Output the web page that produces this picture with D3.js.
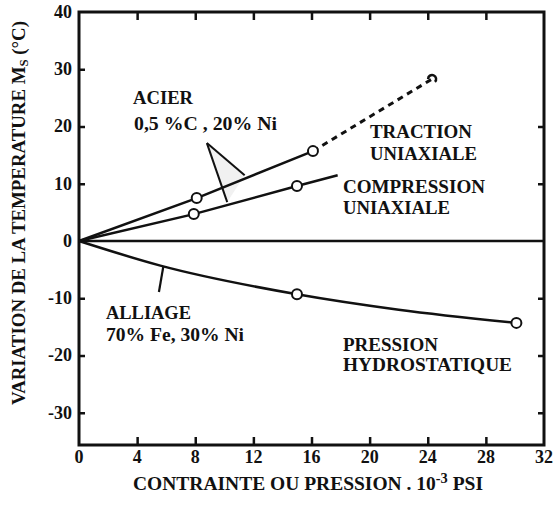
<!DOCTYPE html>
<html>
<head>
<meta charset="utf-8">
<script src="https://cdn.jsdelivr.net/npm/d3@7/dist/d3.min.js"></script>
<style>
  html, body { margin: 0; padding: 0; background: #fff; }
  svg { display: block; }
</style>
</head>
<body>
<svg id="chart" width="555" height="509"></svg>
<script>
// ---- data ----
const xTicks = [0, 4, 8, 12, 16, 20, 24, 28, 32];
const yTicks = [40, 30, 20, 10, 0, -10, -20, -30];

// Acier 0,5%C 20%Ni — traction uniaxiale
const tractionSolid = [[0, 0], [8.1, 7.5], [16.1, 15.7]];
const tractionDashed = [[16.1, 15.7], [24.3, 28.3]];
const tractionPoints = [[8.1, 7.5], [16.1, 15.7]];
const tractionEnd = [24.3, 28.3];

// Acier — compression uniaxiale
const compression = [[0, 0], [7.9, 4.7], [15.0, 9.6], [17.8, 11.5]];
const compressionPoints = [[7.9, 4.7], [15.0, 9.6]];

// Alliage 70%Fe 30%Ni — pression hydrostatique
const hydro = [[0, 0], [5.6, -4.3], [15.0, -9.3], [22.0, -12.0], [30.1, -14.3]];
const hydroPoints = [[15.0, -9.3], [30.1, -14.3]];

// annotation leader lines (data units)
const acierApex = [8.8, 17.1];
const acierTargets = [[11.4, 11.5], [10.2, 6.8]];
const alliageLeader = [[5.8, -4.5], [5.5, -8.9]];

// ---- layout ----
const FONT = "Liberation Serif";
const svg = d3.select("#chart");
const L = 79, R = 544, T = 12, B = 445;
const x = d3.scaleLinear().domain([0, 32]).range([L, R]);
const y = d3.scaleLinear().domain([-35.63, 40]).range([B, T]);

const line = d3.line().x(d => x(d[0])).y(d => y(d[1]));
const styleText = sel => sel.attr("font-family", FONT).attr("font-weight", "bold").attr("fill", "#111");

// frame
svg.append("rect").attr("x", L).attr("y", T).attr("width", R - L).attr("height", B - T)
  .attr("fill", "none").attr("stroke", "#111").attr("stroke-width", 3);

// axes with inward ticks
const inner = xTicks.filter(v => v > 0 && v < 32);
svg.append("g").attr("transform", `translate(0,${B})`)
  .call(d3.axisBottom(x).tickValues(inner).tickSize(-8).tickFormat(""))
  .call(g => g.select(".domain").remove())
  .selectAll("line").attr("stroke", "#111").attr("stroke-width", 2.5);
svg.append("g").attr("transform", `translate(0,${T})`)
  .call(d3.axisTop(x).tickValues(inner).tickSize(-8).tickFormat(""))
  .call(g => g.select(".domain").remove())
  .selectAll("line").attr("stroke", "#111").attr("stroke-width", 2.5);
svg.append("g").attr("transform", `translate(${L},0)`)
  .call(d3.axisLeft(y).tickValues([30, 20, 10, -10, -20, -30]).tickSize(-6).tickFormat(""))
  .call(g => g.select(".domain").remove())
  .selectAll("line").attr("stroke", "#111").attr("stroke-width", 2.5);
svg.append("g").attr("transform", `translate(${R},0)`)
  .call(d3.axisRight(y).tickValues([20, 10, -10, -20, -30]).tickSize(-6).tickFormat(""))
  .call(g => g.select(".domain").remove())
  .selectAll("line").attr("stroke", "#111").attr("stroke-width", 2.5);

// tick labels
svg.append("g").selectAll("text").data(xTicks).join("text")
  .attr("x", d => x(d)).attr("y", 463).attr("text-anchor", "middle")
  .attr("font-size", 18).call(styleText).text(d => d);
svg.append("g").selectAll("text").data(yTicks).join("text")
  .attr("x", 72).attr("y", d => y(d)).attr("dy", "0.33em").attr("text-anchor", "end")
  .attr("font-size", 18).call(styleText).text(d => d);

// zero line
svg.append("path").attr("d", line([[0, 0], [32, 0]]))
  .attr("stroke", "#111").attr("stroke-width", 2.5).attr("fill", "none");

// leader shading + lines
svg.append("path").attr("d", line([acierApex, acierTargets[0], acierTargets[1]]) + "Z")
  .attr("fill", "#f1f1f1").attr("stroke", "none");
acierTargets.forEach(t => {
  svg.append("path").attr("d", line([acierApex, t]))
    .attr("stroke", "#111").attr("stroke-width", 2).attr("fill", "none");
});
svg.append("path").attr("d", line(alliageLeader))
  .attr("stroke", "#111").attr("stroke-width", 2.2).attr("fill", "none");

// series
svg.append("path").attr("d", line(tractionSolid))
  .attr("stroke", "#111").attr("stroke-width", 2.5).attr("fill", "none");
svg.append("path").attr("d", line(tractionDashed))
  .attr("stroke", "#111").attr("stroke-width", 3).attr("stroke-dasharray", "6,5").attr("fill", "none");
svg.append("path").attr("d", line(compression))
  .attr("stroke", "#111").attr("stroke-width", 2.5).attr("fill", "none");
svg.append("path").attr("d", d3.line().x(d => x(d[0])).y(d => y(d[1])).curve(d3.curveMonotoneX)(hydro))
  .attr("stroke", "#111").attr("stroke-width", 2.5).attr("fill", "none");

// end hook of dashed line
svg.append("path")
  .attr("transform", `translate(${x(tractionEnd[0])},${y(tractionEnd[1])})`)
  .attr("d", d3.arc().innerRadius(4).outerRadius(4).startAngle(-Math.PI / 2).endAngle(Math.PI * 0.75)())
  .attr("stroke", "#111").attr("stroke-width", 2.5).attr("fill", "none");

// markers
const pts = [...tractionPoints, ...compressionPoints, ...hydroPoints];
svg.append("g").selectAll("circle").data(pts).join("circle")
  .attr("cx", d => x(d[0])).attr("cy", d => y(d[1])).attr("r", 5)
  .attr("fill", "#fff").attr("stroke", "#111").attr("stroke-width", 2);

// annotations
const notes = [
  ["ACIER", 133, 104, 60],
  ["0,5 %C , 20% Ni", 134, 130, 143],
  ["TRACTION", 370, 138, 102],
  ["UNIAXIALE", 370, 160, 107],
  ["COMPRESSION", 343, 193, 142],
  ["UNIAXIALE", 343, 214, 107],
  ["ALLIAGE", 106, 319, 85],
  ["70% Fe, 30% Ni", 106, 341, 138],
  ["PRESSION", 343, 351, 95],
  ["HYDROSTATIQUE", 343, 371, 169]
];
svg.append("g").selectAll("text").data(notes).join("text")
  .attr("x", d => d[1]).attr("y", d => d[2]).attr("font-size", 18).call(styleText)
  .attr("textLength", d => d[3]).attr("lengthAdjust", "spacingAndGlyphs")
  .text(d => d[0]);

// x title
const xt = svg.append("text").attr("x", 133).attr("y", 490).attr("font-size", 19).call(styleText)
  .attr("textLength", 350).attr("lengthAdjust", "spacingAndGlyphs");
xt.append("tspan").text("CONTRAINTE OU PRESSION . 10");
xt.append("tspan").attr("font-size", 14).attr("dy", -7).text("-3");
xt.append("tspan").attr("dy", 7).text(" PSI");

// y title
const yt = svg.append("text").attr("transform", "translate(25,405) rotate(-90)")
  .attr("font-size", 19).call(styleText).attr("textLength", 384).attr("lengthAdjust", "spacingAndGlyphs");
yt.append("tspan").text("VARIATION DE LA TEMPERATURE  M");
yt.append("tspan").attr("font-size", 13).attr("dy", 3).text("S");
yt.append("tspan").attr("dy", -3).text(" (°C)");
</script>
</body>
</html>
